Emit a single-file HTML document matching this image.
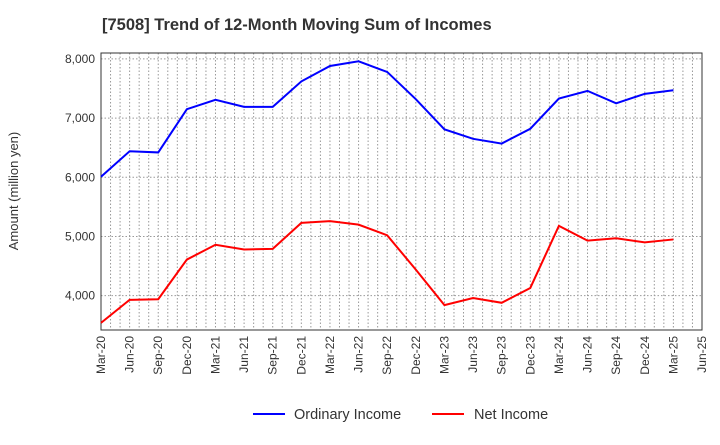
<!DOCTYPE html>
<html><head><meta charset="utf-8"><style>
body{margin:0;background:#fff;font-family:"Liberation Sans",sans-serif}
</style></head><body>
<svg id="c" width="720" height="440" xmlns="http://www.w3.org/2000/svg">
<text x="102" y="30" font-size="16.5" font-weight="bold" fill="#333">[7508]  Trend of 12-Month Moving Sum of Incomes</text>
<text transform="translate(18,191) rotate(-90)" text-anchor="middle" font-size="13" fill="#333">Amount (million yen)</text>
<g id="grid"></g><g id="axes"></g><g id="series"></g>
<g>
<line x1="253" y1="414" x2="285" y2="414" stroke="#0000ff" stroke-width="2"/>
<text x="294" y="419" font-size="14.5" fill="#333">Ordinary Income</text>
<line x1="432" y1="414" x2="464" y2="414" stroke="#ff0000" stroke-width="2"/>
<text x="474" y="419" font-size="14.5" fill="#333">Net Income</text>
</g>
</svg>
<script>
const categories=["Mar-20","Jun-20","Sep-20","Dec-20","Mar-21","Jun-21","Sep-21","Dec-21","Mar-22","Jun-22","Sep-22","Dec-22","Mar-23","Jun-23","Sep-23","Dec-23","Mar-24","Jun-24","Sep-24","Dec-24","Mar-25","Jun-25"];
const ordinaryIncome=[6010,6440,6420,7150,7310,7190,7190,7620,7880,7960,7780,7320,6810,6650,6570,6820,7330,7460,7250,7410,7470];
const netIncome=[3540,3930,3940,4610,4860,4780,4790,5230,5260,5200,5020,4440,3840,3960,3880,4130,5180,4930,4970,4900,4950];
const yTicks=[4000,5000,6000,7000,8000];
const L=101,R=702,T=53,B=330,yMin=3420,yMax=8100;
const sx=i=>L+i*(R-L)/(categories.length-1);
const sy=v=>B-(v-yMin)/(yMax-yMin)*(B-T);
const NS="http://www.w3.org/2000/svg";
function mk(t,a,p){const e=document.createElementNS(NS,t);for(const k in a)e.setAttribute(k,a[k]);p.appendChild(e);return e;}
const grid=document.getElementById('grid'),axes=document.getElementById('axes'),ser=document.getElementById('series');
for(let m=1;m<(categories.length-1)*3;m++){const x=L+m*(R-L)/((categories.length-1)*3);
const g=mk('line',{x1:x,x2:x,y1:T,y2:B,stroke:'#999','stroke-dasharray':'1.5,2'},grid);
}
yTicks.forEach(v=>{const y=sy(v);
const g=mk('line',{x1:L,x2:R,y1:y,y2:y,stroke:'#999','stroke-dasharray':'1.5,2'},grid);

const t=mk('text',{x:L-6,y:y+4,'text-anchor':'end','font-size':'12',fill:'#333'},axes);t.textContent=v.toLocaleString('en-US');
});
const fr=mk('rect',{x:L,y:T,width:R-L,height:B-T,fill:'none',stroke:'#333'},axes);

categories.forEach((c,i)=>{const x=sx(i);
const t=mk('text',{transform:`translate(${x+4},${B+6}) rotate(-90)`,'text-anchor':'end','font-size':'12',fill:'#333'},axes);t.textContent=c;
});
function line(d,col,name){const p=mk('polyline',{points:d.map((v,i)=>sx(i)+','+sy(v)).join(' '),fill:'none',stroke:col,'stroke-width':2},ser);
}
line(ordinaryIncome,'#0000ff','ordinary-income-line');
line(netIncome,'#ff0000','net-income-line');
</script>
</body></html>
